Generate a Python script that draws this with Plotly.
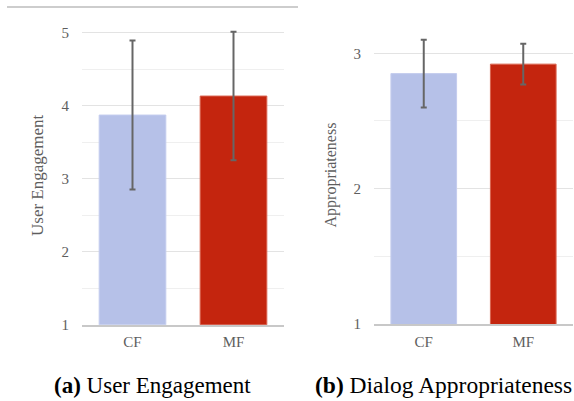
import plotly.graph_objects as go

categories = ["CF", "MF"]
engagement_means = [3.87, 4.13]
engagement_err = [1.02, 0.88]
appropriateness_means = [2.85, 2.92]
appropriateness_err = [0.25, 0.15]
bar_colors = ["#B6C1E8", "#C4250E"]
edge_colors = ["#c4cdee", "#d9634f"]

W, H = 574, 401
SERIF = "Liberation Serif, Times New Roman, serif"
TICK_COLOR = "#5e5e5e"

fig = go.Figure()

err_style = dict(type="data", color="#666666", thickness=2, width=3, visible=True)

fig.add_trace(go.Bar(
    x=categories, y=engagement_means,
    error_y=dict(array=engagement_err, **err_style),
    marker=dict(color=bar_colors, line=dict(color=edge_colors, width=1)),
    xaxis="x", yaxis="y", showlegend=False,
))
fig.add_trace(go.Bar(
    x=categories, y=appropriateness_means,
    error_y=dict(array=appropriateness_err, **err_style),
    marker=dict(color=bar_colors, line=dict(color=edge_colors, width=1)),
    xaxis="x2", yaxis="y2", showlegend=False,
))

def ydom(bottom_px, top_px):
    return [(H - bottom_px) / H, (H - top_px) / H]

# left: value 1 at y=324.7, 5 at y=32.5 -> 73 px/unit; range [1, 5.2]
l_top = 32.5 - 0.2 * 73
# right: value 1 at y=324, 3 at 53.3 -> 135.35 px/unit; range [1, 3.2]
r_top = 53.3 - 0.2 * 135.35

xcommon = dict(
    showgrid=False, zeroline=False, showline=True, linecolor="#c8c8c8", linewidth=1.5,
    tickfont=dict(family=SERIF, size=15, color=TICK_COLOR), ticks="",
    ticklabelstandoff=3, fixedrange=True, automargin=False,
)
ycommon = dict(
    showgrid=True, gridcolor="#e3e3e3", gridwidth=1, zeroline=False, showline=False,
    tickfont=dict(family=SERIF, size=15, color=TICK_COLOR), ticks="",
    ticklabelstandoff=12, automargin=False,
)

fig.update_layout(
    width=W, height=H,
    margin=dict(l=0, r=0, t=0, b=0),
    plot_bgcolor="white", paper_bgcolor="white",
    bargap=0.34,
    xaxis=dict(domain=[82 / W, 284 / W], anchor="y", **xcommon),
    yaxis=dict(domain=ydom(324.7, l_top), range=[1, 5.2], anchor="x",
               tickvals=[1, 2, 3, 4, 5], minor=dict(dtick=0.5, showgrid=True, gridcolor="#efefef"),
               **ycommon),
    xaxis2=dict(domain=[374 / W, 573 / W], anchor="y2", **xcommon),
    yaxis2=dict(domain=ydom(324, r_top), range=[1, 3.2], anchor="x2",
                tickvals=[1, 2, 3], minor=dict(dtick=0.5, showgrid=True, gridcolor="#efefef"),
                **ycommon),
    shapes=[dict(type="line", xref="paper", yref="paper",
                 x0=7 / W, x1=298 / W, y0=(H - 7) / H, y1=(H - 7) / H,
                 line=dict(color="#bdbdbd", width=1.5))],
    annotations=[
        dict(text="User Engagement", textangle=-90, xref="paper", yref="paper",
             x=37 / W, y=(H - 175) / H, showarrow=False, xanchor="center", yanchor="middle",
             font=dict(family=SERIF, size=17, color=TICK_COLOR)),
        dict(text="Appropriateness", textangle=-90, xref="paper", yref="paper",
             x=330 / W, y=(H - 175.5) / H, showarrow=False, xanchor="center", yanchor="middle",
             font=dict(family=SERIF, size=16, color=TICK_COLOR)),
        dict(text="<b>(a)</b> User Engagement", xref="paper", yref="paper",
             x=152 / W, y=(H - 385) / H, showarrow=False, xanchor="center", yanchor="middle",
             font=dict(family=SERIF, size=23, color="black")),
        dict(text="<b>(b)</b> Dialog Appropriateness", xref="paper", yref="paper",
             x=443 / W, y=(H - 385) / H, showarrow=False, xanchor="center", yanchor="middle",
             font=dict(family=SERIF, size=23.5, color="black")),
    ],
)

fig.write_html("out.html", config={"displayModeBar": False},
               post_script="document.body.style.margin='0';document.body.style.overflow='hidden';")
